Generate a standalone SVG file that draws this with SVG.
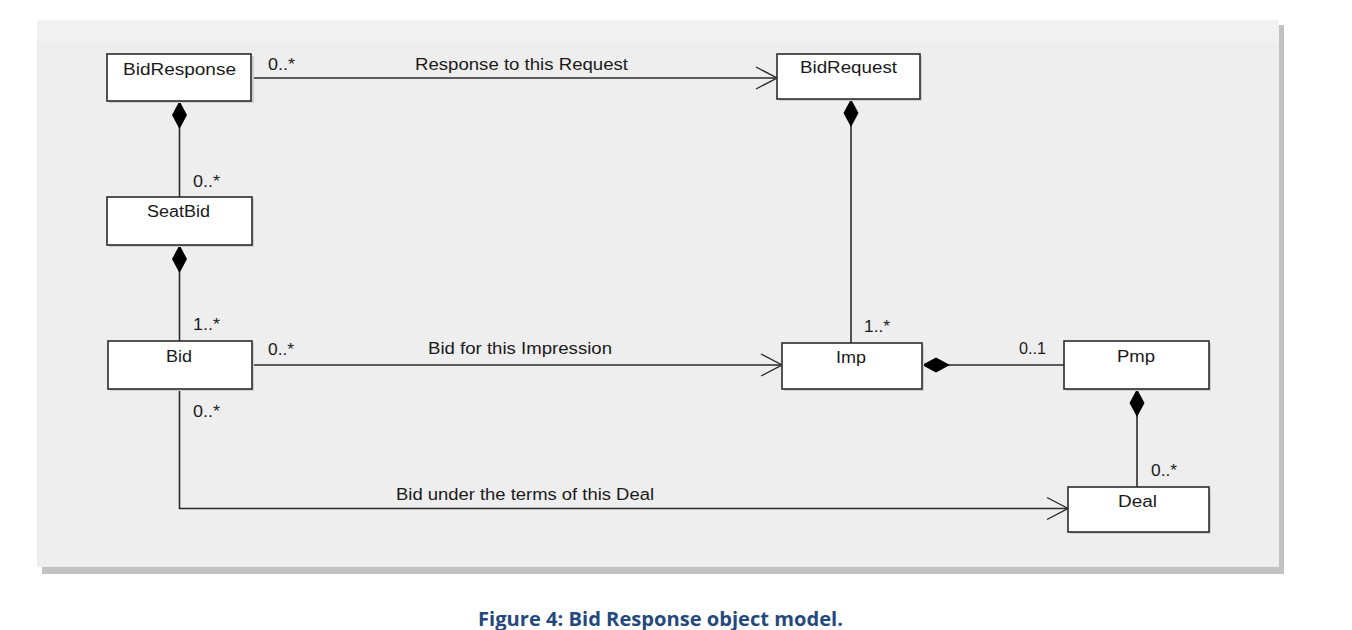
<svg xmlns="http://www.w3.org/2000/svg" width="1352" height="630" viewBox="0 0 1352 630">
  <style>
    .box { fill: #ffffff; stroke: #2b2b2b; stroke-width: 1.6; }
    .bshadow { fill: #cfcfcf; }
    .lbl { font-family: "Liberation Sans", Arial, sans-serif; font-size: 16px; fill: #1a1a1a; }
    .conn { fill: none; stroke: #2b2b2b; stroke-width: 1.6; }
    .cap { font-family: "Open Sans", "Liberation Sans", sans-serif; font-size: 19px; font-weight: bold; fill: #25497d; }
  </style>
  <defs>
    <marker id="diamond" markerUnits="userSpaceOnUse" viewBox="-1 -9 32 18" markerWidth="32" markerHeight="18" refX="0" refY="0" orient="auto">
      <path d="M0,0 L14,-7.5 L28,0 L14,7.5 Z" fill="#000000"/>
    </marker>
    <marker id="open" markerUnits="userSpaceOnUse" viewBox="-24 -13 26 26" markerWidth="26" markerHeight="26" refX="0" refY="0" orient="auto">
      <path d="M-21,-11 L0,0 L-21,11" fill="none" stroke="#2b2b2b" stroke-width="1.4"/>
    </marker>
  </defs>

  <rect x="0" y="0" width="1352" height="630" fill="#ffffff"/>
  <!-- panel -->
  <rect x="42" y="25" width="1242" height="549" fill="#c2c2c2"/>
  <rect x="37" y="20" width="1242" height="547" fill="#eeeeee"/>
  <rect x="37" y="20" width="1242" height="22" fill="#f1f1f1"/>

  <g id="connectors">
    <path class="conn" d="M251,78 H777" marker-end="url(#open)"/>
    <path class="conn" d="M179.5,101 V197" marker-start="url(#diamond)"/>
    <path class="conn" d="M179.5,245 V341" marker-start="url(#diamond)"/>
    <path class="conn" d="M851,99 V343" marker-start="url(#diamond)"/>
    <path class="conn" d="M252,365 H782" marker-end="url(#open)"/>
    <path class="conn" d="M922,365 H1064" marker-start="url(#diamond)"/>
    <path class="conn" d="M1137,389 V487" marker-start="url(#diamond)"/>
    <path class="conn" d="M179.5,389 V508.5 H1068" marker-end="url(#open)"/>
    <text class="lbl" x="268" y="70" textLength="27" lengthAdjust="spacingAndGlyphs">0..*</text>
    <text class="lbl" x="415" y="70" textLength="213" lengthAdjust="spacingAndGlyphs">Response to this Request</text>
    <text class="lbl" x="193" y="187" textLength="27" lengthAdjust="spacingAndGlyphs">0..*</text>
    <text class="lbl" x="193" y="330" textLength="27" lengthAdjust="spacingAndGlyphs">1..*</text>
    <text class="lbl" x="268" y="355" textLength="26" lengthAdjust="spacingAndGlyphs">0..*</text>
    <text class="lbl" x="193" y="417" textLength="27" lengthAdjust="spacingAndGlyphs">0..*</text>
    <text class="lbl" x="428" y="354" textLength="184" lengthAdjust="spacingAndGlyphs">Bid for this Impression</text>
    <text class="lbl" x="864" y="332" textLength="26" lengthAdjust="spacingAndGlyphs">1..*</text>
    <text class="lbl" x="1019" y="354" textLength="27" lengthAdjust="spacingAndGlyphs">0..1</text>
    <text class="lbl" x="1151" y="476" textLength="26" lengthAdjust="spacingAndGlyphs">0..*</text>
    <text class="lbl" x="396" y="500" textLength="258" lengthAdjust="spacingAndGlyphs">Bid under the terms of this Deal</text>
  </g>

  <g id="BidResponse">
    <rect class="bshadow" x="109" y="56" width="145" height="47"/>
    <rect class="box" x="107" y="54" width="144" height="47"/>
    <text class="lbl" x="123" y="75" textLength="113" lengthAdjust="spacingAndGlyphs">BidResponse</text>
  </g>
  <g id="SeatBid">
    <rect class="bshadow" x="109" y="199" width="145" height="48"/>
    <rect class="box" x="107" y="197" width="145" height="48"/>
    <text class="lbl" x="147" y="217" textLength="63" lengthAdjust="spacingAndGlyphs">SeatBid</text>
  </g>
  <g id="Bid">
    <rect class="bshadow" x="110" y="343" width="144" height="48"/>
    <rect class="box" x="108" y="341" width="144" height="48"/>
    <text class="lbl" x="166" y="362" textLength="26" lengthAdjust="spacingAndGlyphs">Bid</text>
  </g>
  <g id="BidRequest">
    <rect class="bshadow" x="779" y="56" width="143" height="45"/>
    <rect class="box" x="777" y="54" width="143" height="45"/>
    <text class="lbl" x="800" y="73" textLength="97" lengthAdjust="spacingAndGlyphs">BidRequest</text>
  </g>
  <g id="Imp">
    <rect class="bshadow" x="784" y="345" width="140" height="46"/>
    <rect class="box" x="782" y="343" width="140" height="46"/>
    <text class="lbl" x="836" y="363" textLength="30" lengthAdjust="spacingAndGlyphs">Imp</text>
  </g>
  <g id="Pmp">
    <rect class="bshadow" x="1066" y="343" width="145" height="48"/>
    <rect class="box" x="1064" y="341" width="145" height="48"/>
    <text class="lbl" x="1117" y="362" textLength="38" lengthAdjust="spacingAndGlyphs">Pmp</text>
  </g>
  <g id="Deal">
    <rect class="bshadow" x="1070" y="489" width="141" height="45"/>
    <rect class="box" x="1068" y="487" width="141" height="45"/>
    <text class="lbl" x="1118" y="507" textLength="39" lengthAdjust="spacingAndGlyphs">Deal</text>
  </g>

  <text class="cap" x="478" y="626" textLength="365" lengthAdjust="spacingAndGlyphs">Figure 4: Bid Response object model.</text>
</svg>
